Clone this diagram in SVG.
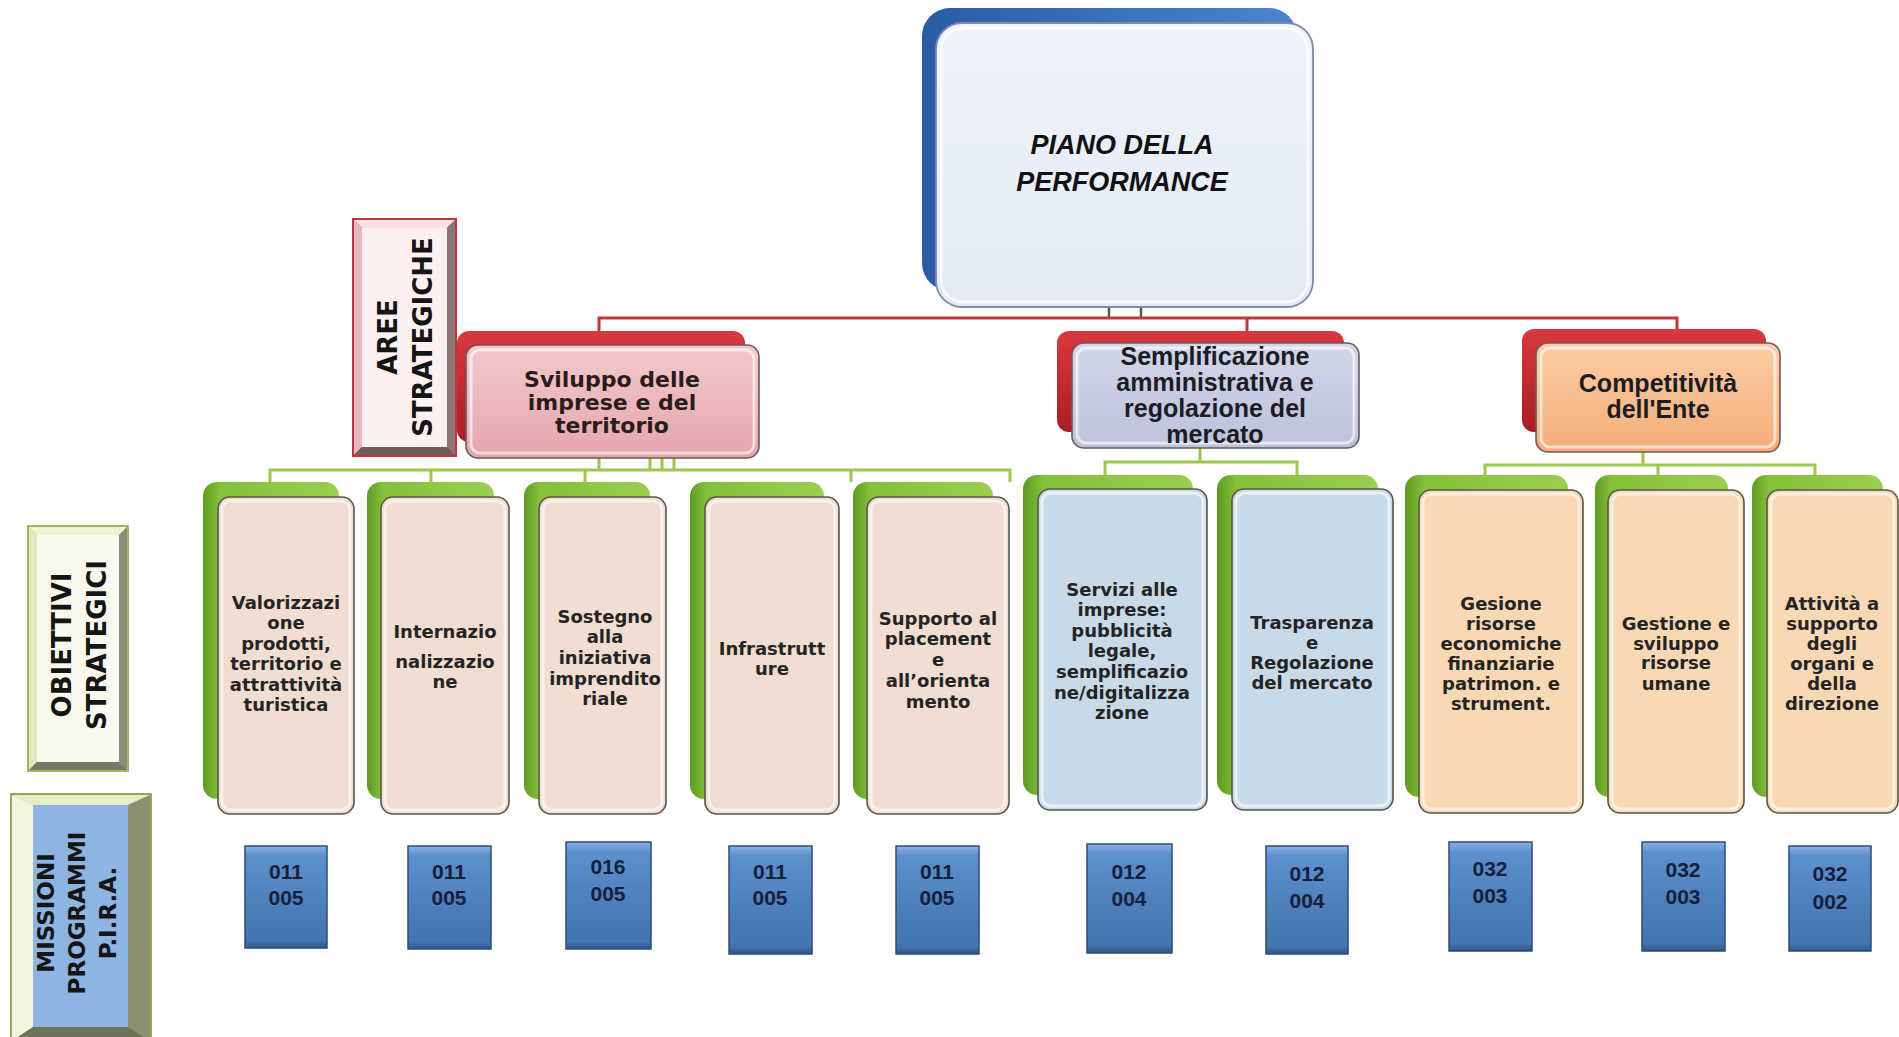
<svg xmlns="http://www.w3.org/2000/svg" width="1899" height="1037" viewBox="0 0 1899 1037">
<style>
.back{fill:url(#gGreen)}
.front{stroke:#55584a;stroke-width:1.6}
.rim{fill:none;stroke:#ffffff;stroke-opacity:0.6;stroke-width:3}
.pinkf{fill:#F1DDD2}
.bluef{fill:#C8DAE8}
.peachf{fill:#F9D8B4}
.redback{fill:url(#gRed)}
.area{stroke:#6b5a5a;stroke-width:1.6}
.obj{font-family:"DejaVu Sans",Verdana,sans-serif;font-weight:bold;font-size:18px;fill:#242424;text-anchor:middle}
.ar{font-family:"DejaVu Sans",Verdana,sans-serif;font-weight:bold;font-size:22px;fill:#2a1c1c;text-anchor:middle}
.ar2{font-family:"Liberation Sans",Arial,sans-serif;font-weight:bold;font-size:25px;fill:#1c1c24;text-anchor:middle}
.lbl{font-family:"DejaVu Sans",Verdana,sans-serif;font-weight:bold;font-size:26px;fill:#151515;text-anchor:middle}
.lbl2{font-family:"DejaVu Sans",Verdana,sans-serif;font-weight:bold;font-size:23px;fill:#151515;text-anchor:middle}
.code{fill:url(#gCode);stroke:#2C4C78;stroke-width:1.5}
.ct{font-family:"Liberation Sans",Arial,sans-serif;font-weight:bold;font-size:21px;fill:#15213c;text-anchor:middle}
.red{stroke:#C4363A;stroke-width:3;fill:none}
.grn{stroke:#9CC64C;stroke-width:3;fill:none}
.stub{stroke:#55555a;stroke-width:2.5;fill:none}
</style>
<defs>
<linearGradient id="gGreen" x1="0" y1="0" x2="1" y2="0"><stop offset="0" stop-color="#5E9A22"/><stop offset="0.12" stop-color="#84C03A"/><stop offset="1" stop-color="#9CCE50"/></linearGradient>
<linearGradient id="gRed" x1="0" y1="0" x2="0" y2="1"><stop offset="0" stop-color="#D9393E"/><stop offset="1" stop-color="#A81E24"/></linearGradient>
<linearGradient id="gBlueBack" x1="0" y1="0" x2="1" y2="0"><stop offset="0" stop-color="#2A5CA6"/><stop offset="1" stop-color="#4C84CE"/></linearGradient>
<linearGradient id="gPiano" x1="0" y1="0" x2="0" y2="1"><stop offset="0" stop-color="#EFF3FA"/><stop offset="1" stop-color="#E3EAF6"/></linearGradient>
<linearGradient id="gPink" x1="0" y1="0" x2="0" y2="1"><stop offset="0" stop-color="#F3C9CC"/><stop offset="1" stop-color="#E4A6AC"/></linearGradient>
<linearGradient id="gLav" x1="0" y1="0" x2="0" y2="1"><stop offset="0" stop-color="#D2D6EA"/><stop offset="1" stop-color="#BCC2DC"/></linearGradient>
<linearGradient id="gOrange" x1="0" y1="0" x2="0" y2="1"><stop offset="0" stop-color="#FBCDA6"/><stop offset="1" stop-color="#F4AE78"/></linearGradient>
<linearGradient id="gCode" x1="0" y1="0" x2="0" y2="1"><stop offset="0" stop-color="#8AB2E2"/><stop offset="0.09" stop-color="#5F90CE"/><stop offset="0.5" stop-color="#4F81BD"/><stop offset="0.93" stop-color="#4474B0"/><stop offset="1" stop-color="#2E5686"/></linearGradient>
</defs>

<g id="connectors">
  <path class="stub" d="M1109 307V318M1141 307V318"/>
  <path class="red" d="M599 331V318H1677V330M1247 318V331"/>
  <path class="grn" d="M270 482V470H1010V482M431 470V482M585 470V482M851 470V482M599 458V470M650 458V470M662 458V470M674 458V470"/>
  <path class="grn" d="M1105 476V462H1297V476M1200 448V462"/>
  <path class="grn" d="M1485 476V465H1815V476M1658 465V476M1643 452V465"/>
</g>

<g id="piano">
  <rect x="922" y="8" width="375" height="283" rx="28" fill="url(#gBlueBack)"/>
  <rect x="936" y="23" width="377" height="284" rx="26" fill="url(#gPiano)" stroke="#7E8CA4" stroke-width="1.8"/>
  <rect x="941" y="28" width="367" height="274" rx="22" fill="none" stroke="#ffffff" stroke-opacity="0.7" stroke-width="3"/>
  <text font-family="'Liberation Sans',Arial,sans-serif" font-weight="bold" font-style="italic" font-size="27" fill="#111" text-anchor="middle"><tspan x="1122" y="154">PIANO DELLA</tspan><tspan x="1122" y="191">PERFORMANCE</tspan></text>
</g>

<g id="label-aree">
  <rect x="352" y="218" width="105" height="239" fill="#B8383C"/>
  <polygon points="354,220 455,220 447,228 362,228" fill="#F6E2E2"/>
  <polygon points="354,220 362,228 362,447 354,455" fill="#E7B9BC"/>
  <polygon points="455,220 455,455 447,447 447,228" fill="#8C7474"/>
  <polygon points="354,455 455,455 447,447 362,447" fill="#725C5C"/>
  <rect x="362" y="228" width="85" height="219" fill="#FCF1F0"/>
  <text class="lbl" transform="translate(397,337) rotate(-90)">AREE</text>
  <text class="lbl" transform="translate(432,337) rotate(-90)">STRATEGICHE</text>
</g>

<g id="label-obiettivi">
  <rect x="27" y="525" width="102" height="247" fill="#9BBB59"/>
  <polygon points="29,527 127,527 119,535 37,535" fill="#EEF3D6"/>
  <polygon points="29,527 37,535 37,762 29,770" fill="#E1E9C4"/>
  <polygon points="127,527 127,770 119,762 119,535" fill="#8A8E78"/>
  <polygon points="29,770 127,770 119,762 37,762" fill="#767A64"/>
  <rect x="37" y="535" width="82" height="227" fill="#F8F9EC"/>
  <text class="lbl" transform="translate(71,645) rotate(-90)">OBIETTIVI</text>
  <text class="lbl" transform="translate(106,645) rotate(-90)">STRATEGICI</text>
</g>

<g id="label-missioni">
  <rect x="10" y="793" width="142" height="250" fill="#9AA35A"/>
  <polygon points="12,795 150,795 128,805 33,805" fill="#E8ECC4"/>
  <polygon points="12,795 33,805 33,1027 12,1041" fill="#F4F6E2"/>
  <polygon points="150,795 150,1041 128,1027 128,805" fill="#8A9072"/>
  <polygon points="12,1041 150,1041 128,1027 33,1027" fill="#6D7356"/>
  <rect x="33" y="805" width="95" height="222" fill="#8DB4E2"/>
  <text class="lbl2" transform="translate(54,913) rotate(-90)">MISSIONI</text>
  <text class="lbl2" transform="translate(85,913) rotate(-90)">PROGRAMMI</text>
  <text class="lbl2" transform="translate(116,913) rotate(-90)">P.I.R.A.</text>
</g>

<g id="area-sviluppo">
  <rect class="redback" x="457" y="331" width="288" height="111" rx="12"/>
  <rect class="area" x="466" y="345" width="293" height="113" rx="12" fill="url(#gPink)"/>
  <rect class="rim" x="471" y="350" width="283" height="103" rx="9"/>
  <text class="ar"><tspan x="612" y="387">Sviluppo delle</tspan><tspan x="612" y="410">imprese e del</tspan><tspan x="612" y="433">territorio</tspan></text>
</g>

<g id="area-semplificazione">
  <rect class="redback" x="1057" y="331" width="287" height="101" rx="12"/>
  <rect class="area" x="1072" y="343" width="287" height="105" rx="12" fill="url(#gLav)"/>
  <rect class="rim" x="1077" y="348" width="277" height="95" rx="9"/>
  <text class="ar2"><tspan x="1215" y="365">Semplificazione</tspan><tspan x="1215" y="391">amministrativa e</tspan><tspan x="1215" y="417">regolazione del</tspan><tspan x="1215" y="443">mercato</tspan></text>
</g>

<g id="area-competitivita">
  <rect class="redback" x="1522" y="329" width="244" height="103" rx="12"/>
  <rect class="area" x="1536" y="343" width="244" height="109" rx="12" fill="url(#gOrange)"/>
  <rect class="rim" x="1541" y="348" width="234" height="99" rx="9"/>
  <text class="ar2"><tspan x="1658" y="392">Competitività</tspan><tspan x="1658" y="418">dell'Ente</tspan></text>
</g>

<g id="obj-valorizzazione">
  <rect class="back" x="203" y="482" width="136" height="317" rx="14"/>
  <rect class="front pinkf" x="218" y="497" width="136" height="317" rx="12"/>
  <rect class="rim" x="222" y="501" width="128" height="309" rx="9"/>
  <text class="obj"><tspan x="286" y="609">Valorizzazi</tspan><tspan x="286" y="629">one</tspan><tspan x="286" y="650">prodotti,</tspan><tspan x="286" y="670">territorio e</tspan><tspan x="286" y="691">attrattività</tspan><tspan x="286" y="711">turistica</tspan></text>
</g>

<g id="obj-internazionalizzazione">
  <rect class="back" x="367" y="482" width="127" height="317" rx="14"/>
  <rect class="front pinkf" x="381" y="497" width="128" height="317" rx="12"/>
  <rect class="rim" x="385" y="501" width="120" height="309" rx="9"/>
  <text class="obj"><tspan x="445" y="638">Internazio</tspan><tspan x="445" y="668">nalizzazio</tspan><tspan x="445" y="688">ne</tspan></text>
</g>

<g id="obj-sostegno">
  <rect class="back" x="524" y="482" width="126" height="317" rx="14"/>
  <rect class="front pinkf" x="539" y="497" width="127" height="317" rx="12"/>
  <rect class="rim" x="543" y="501" width="119" height="309" rx="9"/>
  <text class="obj"><tspan x="605" y="623">Sostegno</tspan><tspan x="605" y="643">alla</tspan><tspan x="605" y="664">iniziativa</tspan><tspan x="605" y="685">imprendito</tspan><tspan x="605" y="705">riale</tspan></text>
</g>

<g id="obj-infrastrutture">
  <rect class="back" x="690" y="482" width="134" height="317" rx="14"/>
  <rect class="front pinkf" x="705" y="497" width="134" height="317" rx="12"/>
  <rect class="rim" x="709" y="501" width="126" height="309" rx="9"/>
  <text class="obj"><tspan x="772" y="655">Infrastrutt</tspan><tspan x="772" y="675">ure</tspan></text>
</g>

<g id="obj-supporto">
  <rect class="back" x="853" y="482" width="140" height="317" rx="14"/>
  <rect class="front pinkf" x="867" y="497" width="142" height="317" rx="12"/>
  <rect class="rim" x="871" y="501" width="134" height="309" rx="9"/>
  <text class="obj"><tspan x="938" y="625">Supporto al</tspan><tspan x="938" y="645">placement</tspan><tspan x="938" y="666">e</tspan><tspan x="938" y="687">all’orienta</tspan><tspan x="938" y="708">mento</tspan></text>
</g>

<g id="obj-servizi">
  <rect class="back" x="1023" y="475" width="170" height="320" rx="14"/>
  <rect class="front bluef" x="1038" y="489" width="169" height="321" rx="12"/>
  <rect class="rim" x="1042" y="493" width="161" height="313" rx="9"/>
  <text class="obj"><tspan x="1122" y="596">Servizi alle</tspan><tspan x="1122" y="616">imprese:</tspan><tspan x="1122" y="637">pubblicità</tspan><tspan x="1122" y="657">legale,</tspan><tspan x="1122" y="678">semplificazio</tspan><tspan x="1122" y="699">ne/digitalizza</tspan><tspan x="1122" y="719">zione</tspan></text>
</g>

<g id="obj-trasparenza">
  <rect class="back" x="1217" y="475" width="161" height="320" rx="14"/>
  <rect class="front bluef" x="1232" y="489" width="161" height="321" rx="12"/>
  <rect class="rim" x="1236" y="493" width="153" height="313" rx="9"/>
  <text class="obj"><tspan x="1312" y="629">Trasparenza</tspan><tspan x="1312" y="649">e</tspan><tspan x="1312" y="669">Regolazione</tspan><tspan x="1312" y="689">del mercato</tspan></text>
</g>

<g id="obj-gesione">
  <rect class="back" x="1405" y="475" width="163" height="322" rx="14"/>
  <rect class="front peachf" x="1419" y="490" width="164" height="323" rx="12"/>
  <rect class="rim" x="1423" y="494" width="156" height="315" rx="9"/>
  <text class="obj"><tspan x="1501" y="610">Gesione</tspan><tspan x="1501" y="630">risorse</tspan><tspan x="1501" y="650">economiche</tspan><tspan x="1501" y="670">finanziarie</tspan><tspan x="1501" y="690">patrimon. e</tspan><tspan x="1501" y="710">strument.</tspan></text>
</g>

<g id="obj-gestione">
  <rect class="back" x="1595" y="475" width="133" height="322" rx="14"/>
  <rect class="front peachf" x="1608" y="490" width="136" height="323" rx="12"/>
  <rect class="rim" x="1612" y="494" width="128" height="315" rx="9"/>
  <text class="obj"><tspan x="1676" y="630">Gestione e</tspan><tspan x="1676" y="650">sviluppo</tspan><tspan x="1676" y="669">risorse</tspan><tspan x="1676" y="690">umane</tspan></text>
</g>

<g id="obj-attivita">
  <rect class="back" x="1752" y="475" width="131" height="322" rx="14"/>
  <rect class="front peachf" x="1767" y="490" width="131" height="323" rx="12"/>
  <rect class="rim" x="1771" y="494" width="123" height="315" rx="9"/>
  <text class="obj"><tspan x="1832" y="610">Attività a</tspan><tspan x="1832" y="630">supporto</tspan><tspan x="1832" y="650">degli</tspan><tspan x="1832" y="670">organi e</tspan><tspan x="1832" y="690">della</tspan><tspan x="1832" y="710">direzione</tspan></text>
</g>

<g id="code-1"><rect class="code" x="245" y="846" width="82" height="102"/><text class="ct"><tspan x="286" y="879">011</tspan><tspan x="286" y="905">005</tspan></text></g>
<g id="code-2"><rect class="code" x="408" y="846" width="83" height="103"/><text class="ct"><tspan x="449" y="879">011</tspan><tspan x="449" y="905">005</tspan></text></g>
<g id="code-3"><rect class="code" x="566" y="842" width="85" height="107"/><text class="ct"><tspan x="608" y="874">016</tspan><tspan x="608" y="901">005</tspan></text></g>
<g id="code-4"><rect class="code" x="729" y="846" width="83" height="108"/><text class="ct"><tspan x="770" y="879">011</tspan><tspan x="770" y="905">005</tspan></text></g>
<g id="code-5"><rect class="code" x="896" y="846" width="83" height="108"/><text class="ct"><tspan x="937" y="879">011</tspan><tspan x="937" y="905">005</tspan></text></g>
<g id="code-6"><rect class="code" x="1087" y="844" width="85" height="109"/><text class="ct"><tspan x="1129" y="879">012</tspan><tspan x="1129" y="906">004</tspan></text></g>
<g id="code-7"><rect class="code" x="1266" y="846" width="82" height="108"/><text class="ct"><tspan x="1307" y="881">012</tspan><tspan x="1307" y="908">004</tspan></text></g>
<g id="code-8"><rect class="code" x="1449" y="842" width="83" height="109"/><text class="ct"><tspan x="1490" y="876">032</tspan><tspan x="1490" y="903">003</tspan></text></g>
<g id="code-9"><rect class="code" x="1642" y="842" width="83" height="109"/><text class="ct"><tspan x="1683" y="877">032</tspan><tspan x="1683" y="904">003</tspan></text></g>
<g id="code-10"><rect class="code" x="1789" y="846" width="82" height="105"/><text class="ct"><tspan x="1830" y="881">032</tspan><tspan x="1830" y="909">002</tspan></text></g>
</svg>
